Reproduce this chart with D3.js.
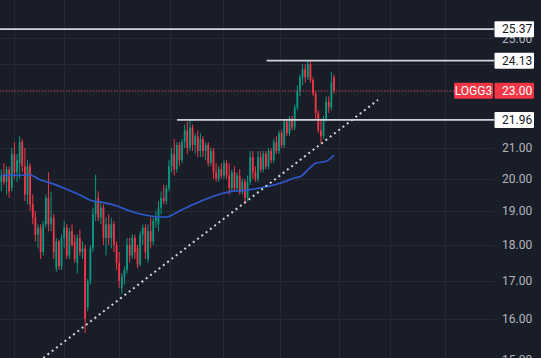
<!DOCTYPE html>
<html><head><meta charset="utf-8">
<script src="https://cdn.jsdelivr.net/npm/d3@7"></script>
<style>html,body{margin:0;padding:0;background:#191d28;overflow:hidden}</style>
</head><body><svg id="c" width="541" height="358"></svg>
<script>
// ---- data ----
const opens  = [19.9,20.1,19.9,20.3,19.7,20.8,20.2,20.5,21.2,20.4,19.5,20.4,19.2,18.8,18.3,18.5,17.8,18.6,19.4,18.6,18.8,17.35,18.1,17.4,18.2,18.5,17.7,18.4,18.1,17.5,18.2,17.8,17.9,16.3,17.0,17.9,18.9,19.4,18.8,19.1,18.2,18.6,18.2,18.6,18.0,17.5,16.8,17.1,17.3,18.0,17.7,18.2,17.9,17.45,18.3,18.5,17.6,18.4,18.1,18.7,18.6,19.1,19.4,19.3,19.7,20.4,20.8,20.3,21.1,20.6,21.2,21.6,21.0,21.7,21.1,21.4,20.9,21.3,20.9,21.1,20.5,20.9,20.2,20.0,20.3,20.1,20.5,20.1,19.7,20.2,19.7,20.1,19.6,19.9,19.4,19.9,20.7,20.2,20.0,20.7,20.3,20.8,20.4,20.9,20.6,21.2,20.9,21.5,21.1,21.9,21.5,22.0,21.7,22.4,23.0,23.5,23.8,23.5,24.0,23.4,22.9,22.2,21.6,21.4,22.0,22.6,22.4,23.5];
const highs  = [20.3,20.5,20.4,20.4,21.0,21.2,20.8,21.4,21.3,21.0,20.6,20.5,19.5,19.0,18.6,18.6,18.7,19.5,20.2,19.6,18.9,18.2,18.15,18.3,18.7,18.6,18.5,18.6,18.3,18.3,18.45,18.1,18.0,17.05,18.0,19.1,20.13,19.6,19.3,19.2,18.8,18.9,18.8,18.7,18.1,17.8,17.2,17.4,18.2,18.2,18.3,18.3,18.0,18.4,18.6,18.6,18.6,18.8,18.8,19.0,19.3,19.6,19.8,19.8,20.6,21.0,21.3,21.2,21.2,21.3,21.8,21.9,22.0,21.8,21.5,21.6,21.5,21.4,21.2,21.2,21.0,21.0,20.5,20.4,20.5,20.6,20.6,20.5,20.3,20.4,20.2,20.3,20.0,20.0,20.1,20.9,20.9,20.4,20.9,20.9,20.9,20.9,21.0,21.0,21.3,21.4,21.6,21.6,22.0,22.0,22.1,22.1,22.5,23.2,23.6,24.0,24.0,24.13,24.1,23.5,23.0,22.3,22.0,22.1,22.8,22.8,23.7,23.6];
const lows   = [19.6,19.8,19.5,19.4,19.6,20.0,19.9,20.0,20.2,19.3,19.2,19.0,18.6,18.1,17.9,17.6,17.7,18.5,18.4,18.4,17.6,17.25,17.3,17.3,17.9,17.6,17.6,17.95,17.5,17.2,17.7,17.6,15.65,16.2,16.9,17.8,18.7,18.7,18.6,18.0,17.7,18.0,17.9,17.8,17.3,16.8,16.65,16.9,17.2,17.5,17.6,17.6,17.35,17.4,18.0,17.6,17.5,17.9,18.0,18.5,18.4,18.9,19.2,19.2,19.6,20.2,20.1,20.2,20.4,20.5,21.0,20.8,20.9,20.9,20.8,20.7,20.7,20.7,20.6,20.4,20.4,20.0,19.9,19.9,20.0,20.0,20.0,19.5,19.6,19.6,19.6,19.5,19.5,19.2,19.3,19.8,20.0,19.9,19.9,20.2,20.2,20.3,20.3,20.5,20.5,20.8,20.8,21.0,21.0,21.4,21.4,21.6,21.6,22.3,22.8,23.2,23.3,23.4,23.3,22.8,22.0,21.5,21.17,21.3,21.9,22.2,22.3,22.9];
const closes = [20.1,19.9,20.3,19.6,20.8,20.2,20.6,21.2,20.4,19.5,20.4,19.2,18.8,18.3,18.5,17.8,18.6,19.4,18.6,18.8,17.8,18.1,17.4,18.2,18.5,17.7,18.4,18.0,17.6,18.2,17.8,17.9,16.0,17.0,17.9,18.9,19.3,18.8,19.1,18.2,18.6,18.2,18.6,18.0,17.5,17.0,17.1,17.3,18.0,17.7,18.2,17.8,17.45,18.3,18.5,17.8,18.4,18.1,18.7,18.8,19.1,19.4,19.3,19.7,20.4,20.8,20.3,21.1,20.6,21.2,21.6,21.0,21.7,21.1,21.4,20.9,21.3,20.9,21.1,20.5,20.9,20.2,20.0,20.3,20.1,20.5,20.1,19.7,20.2,19.7,20.1,19.6,19.9,19.4,19.9,20.7,20.2,20.0,20.7,20.3,20.8,20.4,20.9,20.6,21.2,20.9,21.5,21.1,21.9,21.5,22.0,21.7,22.4,23.0,23.5,23.8,23.5,24.0,23.4,22.9,22.2,21.6,21.4,22.0,22.6,22.4,23.3,23.0];

const maIndex  = [0,11,15,19,24,30,34,38,43,48,53,57,60,63,68,72,77,81,85,88,94,98,104,109,112,114,117,120,124,127];
const maValues = [20.1,20.12,19.96,19.86,19.7,19.49,19.33,19.27,19.18,19.03,18.91,18.85,18.82,18.82,19.0,19.15,19.33,19.45,19.55,19.6,19.64,19.7,19.8,19.93,20.03,20.06,20.28,20.5,20.56,20.77];

const priceTicks = [15,16,17,18,19,20,21,22,23,24,25];
const labelledTicks = [15,16,17,18,19,20,21,25]; // 22–24 are hidden behind the level labels
const monthGridIndex = [5,24,45,64.5,84.5,106.5,129,148.5,169.5];

const levelPrices = [25.37,24.13,21.96];
const levelStartIndex = [-2,101.3,67.1];
const lastPrice = 23.00;
const symbol = "LOGG3";
const trendIndex = [16,143.8];
const trendPrices = [15.04,22.67];

// ---- drawing ----
const W = 541, H = 358, plotRight = 494;
const svg = d3.select("#c");
svg.append("rect").attr("width",W).attr("height",H).attr("fill","#191d28");

const x = d3.scaleLinear().domain([0,127]).range([1.3,334]);
const y = d3.scaleLog().domain([15,25]).range([359.6,38.4]);

const grid = svg.append("g").attr("stroke","#252a36").attr("stroke-width",1);
grid.selectAll(".h").data(priceTicks).join("line")
  .attr("x1",0).attr("x2",plotRight)
  .attr("y1",d=>Math.round(y(d))+0.5).attr("y2",d=>Math.round(y(d))+0.5);
grid.selectAll(".v").data(monthGridIndex).join("line")
  .attr("x1",d=>Math.round(x(d))+0.5).attr("x2",d=>Math.round(x(d))+0.5)
  .attr("y1",0).attr("y2",H);

const axis = d3.axisRight(y).tickValues(labelledTicks).tickFormat(d3.format(".2f")).tickSize(0).tickPadding(8);
const ag = svg.append("g").attr("transform",`translate(${plotRight},0)`).call(axis);
ag.select(".domain").remove();
ag.selectAll("text").attr("fill","#b2b5be").attr("font-family","Roboto, sans-serif").attr("font-size",12);

const candles = d3.range(opens.length).map(i=>({i,o:opens[i],h:highs[i],l:lows[i],c:closes[i]}));
const up = "#089981", dn = "#f23645";
const cg = svg.append("g");
cg.selectAll("line").data(candles).join("line")
  .attr("x1",d=>x(d.i)).attr("x2",d=>x(d.i))
  .attr("y1",d=>y(d.h)).attr("y2",d=>y(d.l))
  .attr("stroke",d=>d.c>=d.o?up:dn).attr("stroke-width",1);
cg.selectAll("rect").data(candles).join("rect")
  .attr("x",d=>x(d.i)-0.9).attr("width",1.8)
  .attr("y",d=>y(Math.max(d.o,d.c)))
  .attr("height",d=>Math.max(1,y(Math.min(d.o,d.c))-y(Math.max(d.o,d.c))))
  .attr("fill",d=>d.c>=d.o?up:dn);

const ma = d3.line().x(d=>x(d[0])).y(d=>y(d[1])).curve(d3.curveMonotoneX);
svg.append("path").datum(maIndex.map((v,k)=>[v,maValues[k]]))
  .attr("d",ma).attr("fill","none").attr("stroke","#2f5bd1").attr("stroke-width",1.6);

svg.append("line")
  .attr("x1",x(trendIndex[0])).attr("y1",y(trendPrices[0]))
  .attr("x2",x(trendIndex[1])).attr("y2",y(trendPrices[1]))
  .attr("stroke","#d1d4dc").attr("stroke-width",2).attr("stroke-dasharray","2 3.4");

svg.append("line")
  .attr("x1",0).attr("x2",454).attr("y1",y(lastPrice)).attr("y2",y(lastPrice))
  .attr("stroke",dn).attr("stroke-width",1).attr("stroke-dasharray","1 2");

svg.selectAll(".lvl").data(levelPrices).join("line")
  .attr("x1",(d,k)=>Math.max(0,x(levelStartIndex[k]))).attr("x2",plotRight)
  .attr("y1",d=>y(d)).attr("y2",d=>y(d))
  .attr("stroke","#d1d4dc").attr("stroke-width",1.8);

const lab = svg.append("g").attr("font-family","Roboto, sans-serif").attr("font-size",12);
levelPrices.forEach(p=>{
  lab.append("rect").attr("x",494.5).attr("y",y(p)-8).attr("width",39.5).attr("height",16).attr("rx",1).attr("fill","#ffffff");
  lab.append("text").attr("x",502).attr("y",y(p)).attr("dy","0.36em").attr("fill","#131722").text(p.toFixed(2));
});
lab.append("rect").attr("x",454).attr("y",y(lastPrice)-8).attr("width",39).attr("height",16).attr("rx",1).attr("fill",dn);
lab.append("text").attr("x",473.5).attr("y",y(lastPrice)).attr("dy","0.36em").attr("text-anchor","middle").attr("fill","#ffffff").text(symbol);
lab.append("rect").attr("x",494.5).attr("y",y(lastPrice)-8).attr("width",39.5).attr("height",16).attr("rx",1).attr("fill",dn);
lab.append("text").attr("x",502).attr("y",y(lastPrice)).attr("dy","0.36em").attr("fill","#ffffff").text(lastPrice.toFixed(2));
</script></body></html>
